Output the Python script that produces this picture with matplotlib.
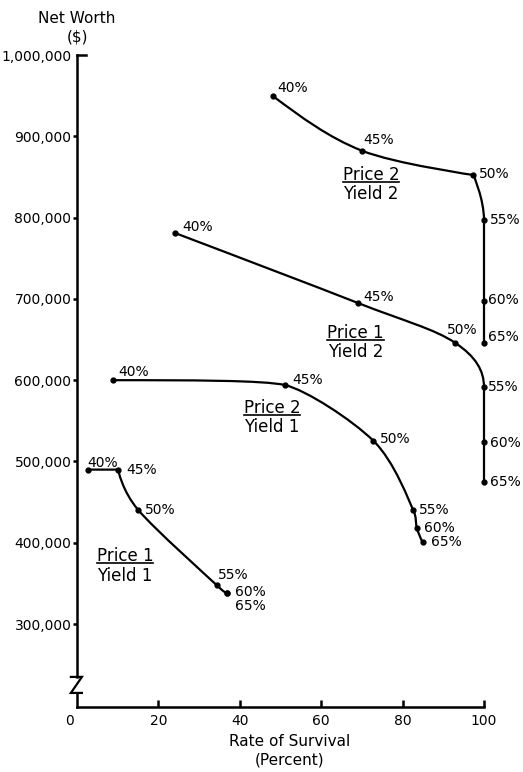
import numpy as np
import matplotlib.pyplot as plt
import matplotlib.transforms as mtransforms
from matplotlib.path import Path
from matplotlib.patches import PathPatch
from matplotlib.lines import Line2D

plt.rcParams['font.family'] = 'DejaVu Sans'

# Harvest rates labelled along every curve
rates = ['40%', '45%', '50%', '55%', '60%', '65%']

# Rate of survival (percent) and net worth ($) for each price / yield case
p1y1_survival = [2.6, 10.1, 15.1, 34.3, 36.8, 36.8]
p1y1_worth = [490000, 490000, 440000, 348000, 338000, 338000]

p2y1_survival = [8.8, 51.1, 72.8, 82.6, 83.5, 84.9]
p2y1_worth = [600000, 594000, 525600, 440400, 418200, 400600]

p1y2_survival = [24.1, 69.0, 92.9, 100, 100, 100]
p1y2_worth = [781000, 695000, 646000, 591300, 524400, 475000]

p2y2_survival = [48.1, 70.0, 97.4, 100, 100, 100]
p2y2_worth = [949600, 882300, 852400, 797000, 697400, 646000]

y_ticks = [300000, 400000, 500000, 600000, 700000, 800000, 900000, 1000000]
x_ticks = [0, 20, 40, 60, 80, 100]


def smooth_path(xs, ys, corners=()):
    # Catmull-Rom style cubic Bezier through the points (duplicates dropped),
    # tangents shortened so a segment never swings past its end points
    pts = []
    for x, y in zip(xs, ys):
        if not pts or (x, y) != pts[-1]:
            pts.append((x, y))
    P = np.array(pts, float)
    n = len(P)
    T = np.zeros_like(P)
    for i in range(1, n - 1):
        T[i] = (P[i + 1] - P[i - 1]) / 2
        if P[i + 1, 0] == P[i, 0] or P[i - 1, 0] == P[i, 0]:
            T[i, 0] = 0
        s = 1.0
        for j in (i - 1, i + 1):
            for d in (0, 1):
                room = abs(P[j, d] - P[i, d])
                reach = abs(T[i, d]) / 3
                if room > 0 and reach > room:
                    s = min(s, room / reach)
        T[i] *= s
    for i in corners:
        T[i] = 0
    T[0] = (3 * (P[1] - P[0]) - T[1]) / 2
    T[-1] = (3 * (P[-1] - P[-2]) - T[-2]) / 2
    verts = [P[0]]
    codes = [Path.MOVETO]
    for i in range(n - 1):
        verts += [P[i] + T[i] / 3, P[i + 1] - T[i + 1] / 3, P[i + 1]]
        codes += [Path.CURVE4] * 3
    return Path(verts, codes)


fig = plt.figure(figsize=(5.23, 7.72), dpi=100)
ax = fig.add_axes([77 / 523, 1 - 707 / 772, 407 / 523, 652 / 772])
ax.set_xlim(0, 100)
ax.set_ylim(198000, 1000000)

series = [
    (p1y1_survival, p1y1_worth, (1,),
     [(0, 5), (6, 0), (5, 0), (1, 7), (6, 1), (6, -9)]),
    (p2y1_survival, p2y1_worth, (),
     [(4, 6), (5, 4), (5, 1.5), (4, 0), (5, 0), (6, 0)]),
    (p1y2_survival, p1y2_worth, (),
     [(5, 4), (4, 4), (-6, 9), (3, 0), (4, -1), (4, 0)]),
    (p2y2_survival, p2y2_worth, (2,),
     [(3, 6), (1, 8), (4, 1), (4, 0), (3, 1), (3, 4)]),
]

for xs, ys, corners, offsets in series:
    ax.add_patch(PathPatch(smooth_path(xs, ys, corners), fill=False,
                           ec='black', lw=1.6, clip_on=False))
    ax.plot(xs, ys, 'o', ms=3.5, color='black', clip_on=False, zorder=3)
    for x, y, r, off in zip(xs, ys, rates, offsets):
        ax.annotate(r, (x, y), xytext=off, textcoords='offset points',
                    ha='left', va='center', fontsize=10)

# price / yield captions written as fractions
captions = [
    (11.8, 375000, 'Price 1', 'Yield 1'),
    (47.9, 557200, 'Price 2', 'Yield 1'),
    (68.4, 649500, 'Price 1', 'Yield 2'),
    (72.2, 843800, 'Price 2', 'Yield 2'),
]
cap_texts = []
for x, y, top, bottom in captions:
    t1 = ax.annotate(top, (x, y), xytext=(0, 1.5), textcoords='offset points',
                     ha='center', va='baseline', fontsize=12)
    t2 = ax.annotate(bottom, (x, y), xytext=(0, -2.5), textcoords='offset points',
                     ha='center', va='top', fontsize=12)
    cap_texts.append((x, y, t1, t2))

# axes styling
for side in ['top', 'right']:
    ax.spines[side].set_visible(False)
ax.spines['left'].set_linewidth(1.8)
ax.spines['bottom'].set_linewidth(1.8)
ax.spines['left'].set_bounds(235000, 1000000)

# broken-axis mark on the net worth axis
ax.plot([0, 0], [198000, 215300], color='black', lw=1.8, clip_on=False)
ax.plot([-1.5, 1.2, -1.5, 1.2], [235000, 235000, 215300, 215300],
        color='black', lw=1.6, clip_on=False, solid_joinstyle='miter')
ax.plot([0, 2.2], [1000000, 1000000], color='black', lw=1.8, clip_on=False)

ax.set_yticks(y_ticks)
ax.set_yticklabels([f'{v:,}' for v in y_ticks])
ax.tick_params(axis='y', direction='out', length=3, width=1.8, pad=1,
               labelsize=10)
ax.yaxis.get_major_ticks()[-1].tick1line.set_visible(False)

ax.set_xticks(x_ticks)
ax.set_xticklabels([str(v) for v in x_ticks])
ax.tick_params(axis='x', direction='in', length=5, width=1.8, pad=5,
               labelsize=10)
ax.xaxis.get_major_ticks()[0].tick1line.set_visible(False)
shift = mtransforms.ScaledTranslation(-8 / 100, 0, fig.dpi_scale_trans)
zero_label = ax.xaxis.get_major_ticks()[0].label1
zero_label.set_transform(zero_label.get_transform() + shift)

fig.text(77 / 523, 1 - 11 / 772, 'Net Worth\n($)', ha='center', va='top',
         fontsize=11, linespacing=1.25)
fig.text(290 / 523, 1 - 734 / 772, 'Rate of Survival\n(Percent)', ha='center',
         va='top', fontsize=11, linespacing=1.3)

# fraction bars under each "Price" caption
fig.canvas.draw()
renderer = fig.canvas.get_renderer()
for x, y, t1, t2 in cap_texts:
    b1 = t1.get_window_extent(renderer)
    b2 = t2.get_window_extent(renderer)
    px, py = ax.transData.transform((x, y))
    half = max(b1.width, b2.width) / 2
    fig.add_artist(Line2D([px - half, px + half], [py, py], color='black',
                          lw=1.2, transform=mtransforms.IdentityTransform()))

fig.savefig('out.png', dpi=100)
